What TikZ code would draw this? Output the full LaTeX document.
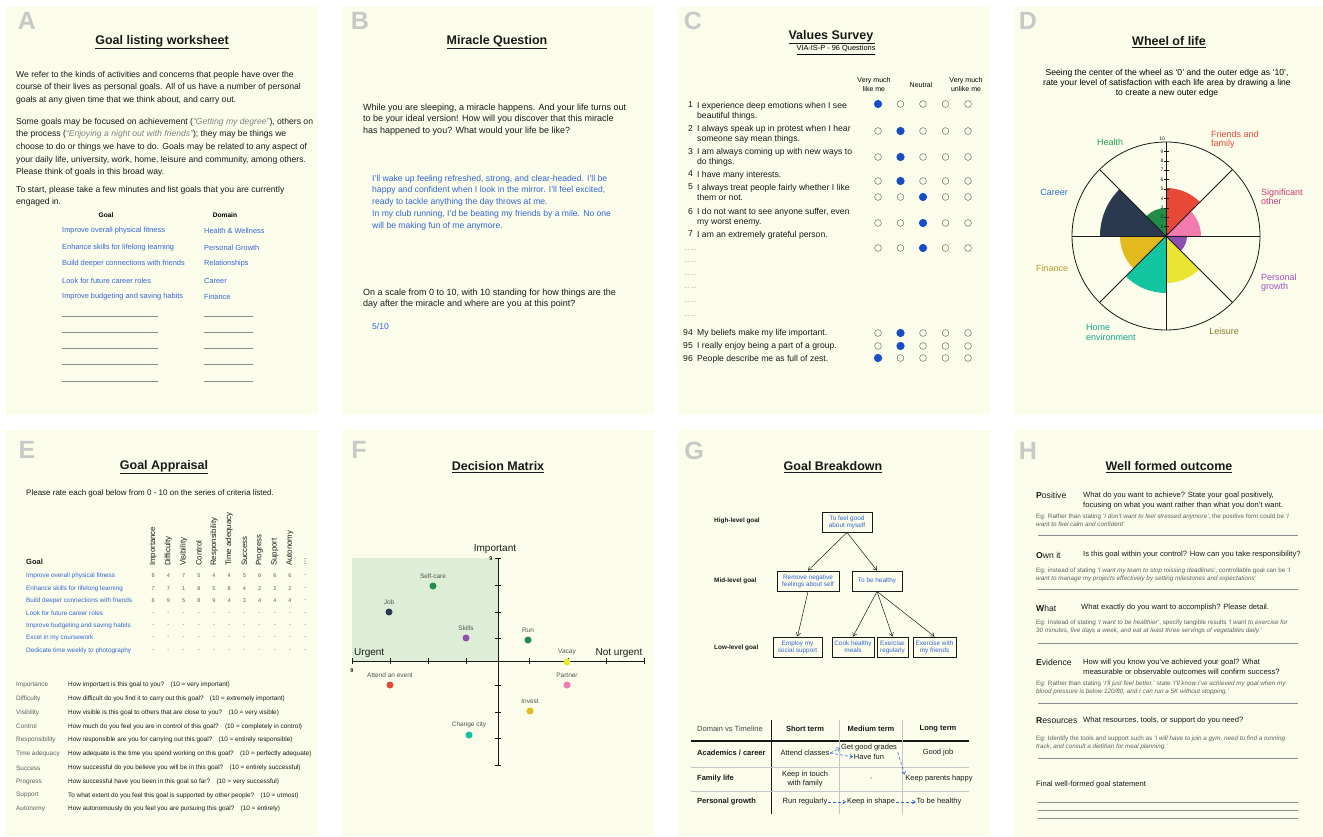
\documentclass[tikz,border=0pt]{standalone}
\usepackage{fontspec}
\setmainfont{Liberation Sans}
\usetikzlibrary{positioning,arrows.meta}
\definecolor{paper}{RGB}{251,253,234}
\definecolor{ink}{RGB}{25,25,25}
\definecolor{answer}{RGB}{50,100,215}
\definecolor{dotblue}{RGB}{25,75,205}
\definecolor{lettergray}{RGB}{200,200,200}
\definecolor{rulegray}{RGB}{140,140,140}
\definecolor{notegray}{RGB}{95,95,95}
\definecolor{quotegray}{RGB}{130,130,130}
\definecolor{quadgreen}{RGB}{222,238,214}
\definecolor{lifegreen}{RGB}{32,142,72}
\definecolor{lifered}{RGB}{232,72,56}
\definecolor{lifepink}{RGB}{243,122,172}
\definecolor{lifepurple}{RGB}{140,80,175}
\definecolor{lifeyellow}{RGB}{232,230,50}
\definecolor{lifeteal}{RGB}{18,196,160}
\definecolor{lifegold}{RGB}{226,186,30}
\definecolor{lifenavy}{RGB}{42,56,80}
\definecolor{healthgreen}{RGB}{40,160,90}
\definecolor{careerblue}{RGB}{40,110,200}
\definecolor{financegold}{RGB}{185,155,45}
\definecolor{leisureolive}{RGB}{130,125,40}
\definecolor{otherpink}{RGB}{205,55,120}
\definecolor{growthpurple}{RGB}{160,80,190}
\definecolor{hometeal}{RGB}{20,165,140}
\newcommand{\fsz}[2]{\fontsize{#1}{#2}\selectfont}

\begin{document}
\begin{tikzpicture}[x=1pt,y=-1pt,
  panel/.style={fill=paper},
  letter/.style={font=\fsz{25}{25}\bfseries,text=lettergray,inner sep=0},
  heading/.style={font=\fsz{12.5}{15}\bfseries,text=ink,inner sep=0},
  para/.style={align=left,anchor=north west,inner sep=0,text=ink},
  textline/.style={anchor=west,inner sep=0,text=ink},
  hrule/.style={rulegray,line width=0.7pt},
  rating/.style={draw=ink!70,line width=0.45pt},
  mpoint/.style={circle,fill=#1,minimum size=7pt,inner sep=0},
  pointlabel/.style={font=\fsz{6.5}{8},text=ink!75},
  maxis/.style={line width=0.9pt,ink},
  goalbox/.style={draw=ink,line width=0.9pt,text=answer,font=\fsz{6.4}{7.2},align=center,minimum height=20pt,inner sep=1.5pt},
  breakarrow/.style={-{Straight Barb[length=3.5pt,width=4.5pt]},line width=0.5pt,ink},
  link/.style={-{Straight Barb[length=3pt,width=4pt]},densely dashed,line width=0.6pt,answer},
  cell/.style={font=\fsz{7.5}{8.2},text=ink,inner sep=0.6pt,align=center},
  example/.style={align=left,anchor=north west,inner sep=0,font=\fsz{6.3}{7.6},text=notegray}]
\fill[white] (0,0) rectangle (1323,837);
\useasboundingbox (0,0) rectangle (1323,837);
\fill[panel] (5,7) rectangle (318,415);
\fill[panel] (342,7) rectangle (654,415);
\fill[panel] (678,7) rectangle (990,415);
\fill[panel] (1014,7) rectangle (1323,415);
\fill[panel] (5,430) rectangle (318,836);
\fill[panel] (342,430) rectangle (654,836);
\fill[panel] (678,430) rectangle (990,836);
\fill[panel] (1014,430) rectangle (1323,837);

\node[letter] (la) at (27,21) {A};
\node[heading] (ta) at (162,42) {\underline{Goal listing worksheet}};
\node[para,font=\fsz{8.6}{12.6}] (pa1) at (16,70.8) {We refer to the kinds of activities and concerns that people have over the\\course of their lives as personal goals. All of us have a number of personal\\goals at any given time that we think about, and carry out.};
\node[para,font=\fsz{8.6}{12.6}] (pa2) at (16,117.8) {Some goals may be focused on achievement ({\color{quotegray}\itshape “Getting my degree”}), others on\\the process ({\color{quotegray}\itshape “Enjoying a night out with friends”}); they may be things we\\choose to do or things we have to do. Goals may be related to any aspect of\\your daily life, university, work, home, leisure and community, among others.\\Please think of goals in this broad way.};
\node[para,font=\fsz{8.6}{12.6}] (pa3) at (16,185.8) {To start, please take a few minutes and list goals that you are currently\\engaged in.};
\node[font=\fsz{6.6}{8}\bfseries,inner sep=0] (goalcol) at (106,215) {Goal};
\node[font=\fsz{6.6}{8}\bfseries,inner sep=0] (domaincol) at (225,215) {Domain};
\foreach \g/\d [count=\i] in {Improve overall physical fitness/Health \& Wellness,Enhance skills for lifelong learning/Personal Growth,Build deeper connections with friends/Relationships,Look for future career roles/Career,Improve budgeting and saving habits/Finance}
{
  \node[textline,font=\fsz{7.4}{9},text=answer] (goal\i) at (62,214.5+16.5*\i) {\g};
  \node[textline,font=\fsz{7.4}{9},text=answer] (domain\i) at (204,214.5+16.5*\i) {\d};
}
\foreach \y in {316,332,348,364,381}
{
  \draw[hrule] (62,\y) -- (158,\y);
  \draw[hrule] (204,\y) -- (253,\y);
}

\node[letter] (lb) at (360,21) {B};
\node[heading] (tb) at (497,42) {\underline{Miracle Question}};
\node[para,font=\fsz{9}{11.3}] (pb1) at (363,103.7) {While you are sleeping, a miracle happens. And your life turns out\\to be your ideal version! How will you discover that this miracle\\has happened to you? What would your life be like?};
\node[para,font=\fsz{8.6}{11.4},text=answer] (pb2) at (372,174.8) {I’ll wake up feeling refreshed, strong, and clear-headed. I’ll be\\happy and confident when I look in the mirror. I’ll feel excited,\\ready to tackle anything the day throws at me.};
\node[para,font=\fsz{8.6}{11.8},text=answer] (pb3) at (372,209.8) {In my club running, I’d be beating my friends by a mile. No one\\will be making fun of me anymore.};
\node[para,font=\fsz{9}{11.3}] (pb4) at (363,288.7) {On a scale from 0 to 10, with 10 standing for how things are the\\day after the miracle and where are you at this point?};
\node[textline,font=\fsz{8.6}{10},text=answer] (pb5) at (372,326) {5/10};

\node[letter] (lc) at (693,21) {C};
\node[heading] (tc) at (832,37) {\underline{Values Survey\,}};
\node[font=\fsz{7.4}{9},inner sep=0] (sc) at (836,50) {\underline{VIA-IS-P - 96 Questions}};
\node[font=\fsz{7}{9},align=center,inner sep=0] (likeme) at (874,85) {Very much\\like me};
\node[font=\fsz{7}{9},inner sep=0] (neutral) at (921,85) {Neutral};
\node[font=\fsz{7}{9},align=center,inner sep=0] (unlikeme) at (966,85) {Very much\\unlike me};
\foreach \idx/\itm/\ypos in {1/{I experience deep emotions when I see\\beautiful things.}/105,2/{I always speak up in protest when I hear\\someone say mean things.}/128,3/{I am always coming up with new ways to\\do things.}/151,4/{I have many interests.}/174,5/{I always treat people fairly whether I like\\them or not.}/187,6/{I do not want to see anyone suffer, even\\my worst enemy.}/211,7/{I am an extremely grateful person.}/234,94/{My beliefs make my life important.}/332,95/{I really enjoy being a part of a group.}/345,96/{People describe me as full of zest.}/358}
{
  \node[para,font=\fsz{8.6}{10.4}] (item\idx) at (697,\ypos-3.2) {\itm};
  \node[anchor=north east,inner sep=0,font=\fsz{8.6}{10.4},text=ink] (itemno\idx) at (693,\ypos-3.2) {\idx};
}
\foreach \ypos in {250,262,275,288,302,316}
  \node[textline,font=\fsz{5.5}{7},text=notegray] (gap\ypos) at (684,\ypos) {… …};
\foreach \ypos/\pick in {104/1,131/2,157/2,181/2,197/3,223/3,248/3,333/2,346/2,358/1}
{
  \foreach \c in {0,...,4}
    \draw[rating] (878+22.5*\c,\ypos) circle[radius=3.4];
  \fill[dotblue] (855.5+22.5*\pick,\ypos) circle[radius=4.1];
}

\node[letter] (ld) at (1028,21) {D};
\node[heading] (td) at (1169,42) {\underline{Wheel of life}};
\node[font=\fsz{8.6}{9.8},align=center,inner sep=0] (sd) at (1167,83.5) {Seeing the center of the wheel as ‘0’ and the outer edge as ‘10’,\\rate your level of satisfaction with each life area by drawing a line\\to create a new outer edge};
\begin{scope}[shift={(1166,236)},y=1pt]
\foreach \s/\r/\c in {90/28/lifegreen,45/48/lifered,0/35/lifepink,-45/21/lifepurple,-90/47/lifeyellow,-135/57/lifeteal,180/46/lifegold,135/66/lifenavy}
  \fill[\c] (0,0) -- (\s:\r) arc[start angle=\s,delta angle=45,radius=\r] -- cycle;
\draw[ink,line width=0.8pt] (0,0) circle[radius=94];
\foreach \a in {0,45,90,135}
  \draw[ink,line width=0.8pt] (\a:94) -- (\a+180:94);
\foreach \i in {1,...,9}
{
  \draw[ink,line width=0.4pt] (-2,9.4*\i) -- (3,9.4*\i);
  \node[anchor=east,font=\fsz{5}{6},inner sep=0,text=ink] (tick\i) at (-2.5,9.4*\i) {\i};
}
\node[anchor=south east,font=\fsz{5}{6},inner sep=0,text=ink] (tick10) at (-1,95) {10};
\end{scope}
\node[font=\fsz{9}{9.5},text=healthgreen,inner sep=0] (health) at (1110,142) {Health};
\node[para,font=\fsz{9}{9.5},text=lifered] (friends) at (1211,130.7) {Friends and\\family};
\node[para,font=\fsz{9}{9.5},text=otherpink] (partnerlbl) at (1261,188.7) {Significant\\other};
\node[font=\fsz{9}{9.5},text=careerblue,inner sep=0] (career) at (1054,192) {Career};
\node[font=\fsz{9}{9.5},text=financegold,inner sep=0] (finance) at (1052,268) {Finance};
\node[para,font=\fsz{9}{9.5},text=growthpurple] (growthlbl) at (1261,273.7) {Personal\\growth};
\node[para,font=\fsz{9}{10.5},text=hometeal] (home) at (1086,323.7) {Home\\environment};
\node[font=\fsz{9}{9.5},text=leisureolive,inner sep=0] (leisure) at (1224,331) {Leisure};

\node[letter] (le) at (27,450) {E};
\node[heading] (te) at (164,467) {\underline{Goal Appraisal}};
\node[textline,font=\fsz{8}{10}] (pe) at (26,493) {Please rate each goal below from 0 - 10 on the series of criteria listed.};
\node[textline,font=\fsz{7.5}{9}\bfseries] (goalhead) at (26,562) {Goal};
\foreach \c [count=\i] in {Importance,Difficulty,Visibility,Control,Responsibility,Time adequacy,Success,Progress,Support,Autonomy,…}
  \node[rotate=90,anchor=west,inner sep=0,font=\fsz{7.8}{9},text=ink] (crit\i) at (138+15.2*\i,566) {\c};
\foreach \g [count=\i] in {Improve overall physical fitness,Enhance skills for lifelong learning,Build deeper connections with friends,Look for future career roles,Improve budgeting and saving habits,Excel in my coursework,Dedicate time weekly to photography}
  \node[textline,font=\fsz{6.4}{8},text=answer] (egoal\i) at (26,563.6+12.4*\i) {\g};
\foreach \row [count=\i] in {{8,4,7,5,4,4,5,6,6,6,-},{7,7,1,8,5,8,4,2,2,2,-},{6,9,5,8,9,4,3,4,4,4,-},{-,-,-,-,-,-,-,-,-,-,-},{-,-,-,-,-,-,-,-,-,-,-},{-,-,-,-,-,-,-,-,-,-,-},{-,-,-,-,-,-,-,-,-,-,-}}
  \foreach \v [count=\j] in \row
    \node[font=\fsz{5.5}{6},text=notegray,inner sep=0] (val\i-\j) at (138+15.2*\j,563.6+12.4*\i) {\v};
\foreach \c/\q [count=\i] in {Importance/{How important is this goal to you?\quad(10 = very important)},Difficulty/{How difficult do you find it to carry out this goal?\quad(10 = extremely important)},Visibility/{How visible is this goal to others that are close to you?\quad(10 = very visible)},Control/{How much do you feel you are in control of this goal?\quad(10 = completely in control)},Responsibility/{How responsible are you for carrying out this goal?\quad(10 = entirely responsible)},Time adequacy/{How adequate is the time you spend working on this goal?\quad(10 = perfectly adequate)},Success/{How successful do you believe you will be in this goal?\quad(10 = entirely successful)},Progress/{How successful have you been in this goal so far?\quad(10 = very successful)},Support/{To what extent do you feel this goal is supported by other people?\quad(10 = utmost)},Autonomy/{How autonomously do you feel you are pursuing this goal?\quad(10 = entirely)}}
{
  \node[textline,font=\fsz{6.4}{8},text=notegray] (cname\i) at (16,671.2+13.8*\i) {\c};
  \node[textline,font=\fsz{6.4}{8}] (cdesc\i) at (68,671.2+13.8*\i) {\q};
}

\node[letter] (lf) at (359,450) {F};
\node[heading] (tf) at (498,467) {\underline{Decision Matrix}};
\fill[quadgreen] (352,558) rectangle (498,661);
\draw[maxis] (352,661) -- (644,661);
\draw[maxis] (498,558) -- (498,765);
\foreach \t in {-146,-108,-70,-32,31,70,108,146}
  \draw[maxis] (498+\t,658) -- (498+\t,664);
\foreach \t in {558,585,612,638,685,712,738,765}
  \draw[maxis] (495,\t) -- (501,\t);
\node[font=\fsz{10}{12},inner sep=0,text=ink] (important) at (495,549) {Important};
\node[textline,font=\fsz{10}{12}] (urgent) at (354,653) {Urgent};
\node[font=\fsz{10}{12},inner sep=0,text=ink] (noturgent) at (619,653) {Not urgent};
\node[font=\fsz{5.5}{6}\bfseries,inner sep=0,text=ink] (ymax) at (491,559) {9};
\node[font=\fsz{5.5}{6}\bfseries,inner sep=0,text=ink] (xmax) at (352,671) {9};
\foreach \nm/\x/\y/\c/\lbl in {selfcare/433/586/lifegreen/Self-care,job/389/612/lifenavy/Job,skills/466/638/lifepurple/Skills,run/528/640/lifegreen/Run,vacay/567/662/lifeyellow/Vacay,event/390/685/lifered/Attend an event,partner/567/685/lifepink/Partner,invest/530/711/lifegold/Invest,city/469/735/lifeteal/Change city}
  \node[mpoint=\c,label={[pointlabel]above:\lbl}] (\nm) at (\x,\y) {};

\node[letter] (lg) at (694,451) {G};
\node[heading] (tg) at (833,467) {\underline{Goal Breakdown}};
\node[textline,font=\fsz{6.4}{8}\bfseries] (lvlhigh) at (714,521) {High-level goal};
\node[textline,font=\fsz{6.4}{8}\bfseries] (lvlmid) at (714,581) {Mid-level goal};
\node[textline,font=\fsz{6.4}{8}\bfseries] (lvllow) at (714,648) {Low-level goal};
\node[goalbox,minimum width=50pt] (feel) at (847,522) {To feel good\\about myself};
\node[goalbox,minimum width=62pt] (negative) at (808,581) {Remove negative\\feelings about self};
\node[goalbox,minimum width=50pt] (healthy) at (877,581) {To be healthy};
\node[goalbox,minimum width=49pt] (support) at (797.5,647) {Employ my\\social support};
\node[goalbox,minimum width=42pt] (cook) at (853,647) {Cook healthy\\meals};
\node[goalbox,minimum width=31pt] (exreg) at (892.5,647) {Exercise\\regularly};
\node[goalbox,minimum width=43pt] (exfriends) at (934.5,647) {Exercise with\\my friends};
\draw[breakarrow] (feel.south) -- (negative.north);
\draw[breakarrow] (feel.south) -- (healthy.north);
\draw[breakarrow] (negative.south) -- (support.north);
\draw[breakarrow] (healthy.south) -- (cook.north);
\draw[breakarrow] (healthy.south) -- (exreg.north);
\draw[breakarrow] (healthy.south) -- (exfriends.north);
\draw[ink,line width=1.2pt] (691,741) -- (969,741);
\draw[ink,line width=0.9pt] (771,720) -- (771,814);
\draw[rulegray!50,line width=0.6pt] (839,720) -- (839,814);
\draw[rulegray!50,line width=0.6pt] (902,720) -- (902,814);
\draw[rulegray!50,line width=0.6pt] (691,767) -- (969,767);
\draw[rulegray!50,line width=0.6pt] (691,791) -- (969,791);
\node[cell,text=ink!80] (dvt) at (730,729) {Domain vs Timeline};
\node[cell,font=\fsz{7.5}{8.2}\bfseries] (short) at (805,729) {Short term};
\node[cell,font=\fsz{7.5}{8.2}\bfseries] (medium) at (871,729) {Medium term};
\node[cell,font=\fsz{7.5}{8.2}\bfseries] (long) at (938,729) {Long term};
\node[textline,font=\fsz{7.5}{8.2}\bfseries] (acad) at (697,753) {Academics / career};
\node[textline,font=\fsz{7.5}{8.2}\bfseries] (family) at (697,779) {Family life};
\node[textline,font=\fsz{7.5}{8.2}\bfseries] (growth) at (697,802) {Personal growth};
\node[cell] (classes) at (805,753) {Attend classes};
\node[cell] (grades) at (869,748) {Get good grades};
\node[cell] (fun) at (869,757) {Have fun};
\node[cell] (goodjob) at (938,753) {Good job};
\node[cell] (touch) at (805,779) {Keep in touch\\with family};
\node[cell,text=notegray] (none) at (871,779) {-};
\node[cell] (parents) at (939,779) {Keep parents happy};
\node[cell] (runreg) at (805,802) {Run regularly};
\node[cell] (shape) at (871,802) {Keep in shape};
\node[cell] (tobe) at (939,802) {To be healthy};
\draw[link] (classes.east) -- (grades.west);
\draw[link] (classes.east) -- (fun.west);
\draw[link] (grades.south east) -- (parents.north west);
\draw[link] (runreg.east) -- (shape.west);
\draw[link] (shape.east) -- (tobe.west);

\node[letter] (lh) at (1028,451) {H};
\node[heading] (th) at (1169,467) {\underline{Well formed outcome}};
\node[textline,font=\fsz{8.6}{10}] (positive) at (1036,495) {\textbf{P}ositive};
\node[para,font=\fsz{7.6}{9.2}] (qpositive) at (1083,492.2) {What do you want to achieve? State your goal positively,\\focusing on what you want rather than what you don’t want.};
\node[example] (egpositive) at (1036,513.7) {Eg: Rather than stating \textit{‘I don’t want to feel stressed anymore’}, the positive form could be \textit{‘I}\\\textit{want to feel calm and confident’}};
\draw[hrule] (1038,535) -- (1298,535);
\node[textline,font=\fsz{8.6}{10}] (ownit) at (1036,555) {\textbf{O}wn it};
\node[textline,font=\fsz{7.6}{9.2}] (qownit) at (1083,555) {Is this goal within your control? How can you take responsibility?};
\node[example] (egownit) at (1036,567.7) {Eg: instead of stating \textit{‘I want my team to stop missing deadlines’}, controllable goal can be \textit{‘I}\\\textit{want to manage my projects effectively by setting milestones and expectations’}};
\draw[hrule] (1038,589) -- (1298,589);
\node[textline,font=\fsz{8.6}{10}] (what) at (1036,608) {\textbf{W}hat};
\node[textline,font=\fsz{7.6}{9.2}] (qwhat) at (1081,608) {What exactly do you want to accomplish? Please detail.};
\node[example] (egwhat) at (1036,619.7) {Eg: Instead of stating \textit{‘I want to be healthier’}, specify tangible results \textit{‘I want to exercise for}\\\textit{30 minutes, five days a week, and eat at least three servings of vegetables daily.’}};
\draw[hrule] (1038,643) -- (1298,643);
\node[textline,font=\fsz{8.6}{10}] (evidence) at (1036,662) {\textbf{E}vidence};
\node[para,font=\fsz{7.6}{9.2}] (qevidence) at (1083,659.2) {How will you know you’ve achieved your goal? What\\measurable or observable outcomes will confirm success?};
\node[example] (egevidence) at (1036,680.7) {Eg: Rather than stating \textit{‘I’ll just feel better.’} state \textit{‘I’ll know I’ve achieved my goal when my}\\\textit{blood pressure is below 120/80, and I can run a 5K without stopping.’}};
\draw[hrule] (1038,703) -- (1298,703);
\node[textline,font=\fsz{8.6}{10}] (resources) at (1036,721) {\textbf{R}esources};
\node[textline,font=\fsz{7.6}{9.2}] (qresources) at (1083,721) {What resources, tools, or support do you need?};
\node[example] (egresources) at (1036,735.7) {Eg: Identify the tools and support such as \textit{‘I will have to join a gym, need to find a running}\\\textit{track, and consult a dietitian for meal planning.’}};
\draw[hrule] (1038,758) -- (1298,758);
\node[textline,font=\fsz{7.6}{9.2}] (final) at (1036,785) {Final well-formed goal statement};
\foreach \y in {802,810,818}
  \draw[hrule] (1038,\y) -- (1298,\y);
\end{tikzpicture}
\end{document}
